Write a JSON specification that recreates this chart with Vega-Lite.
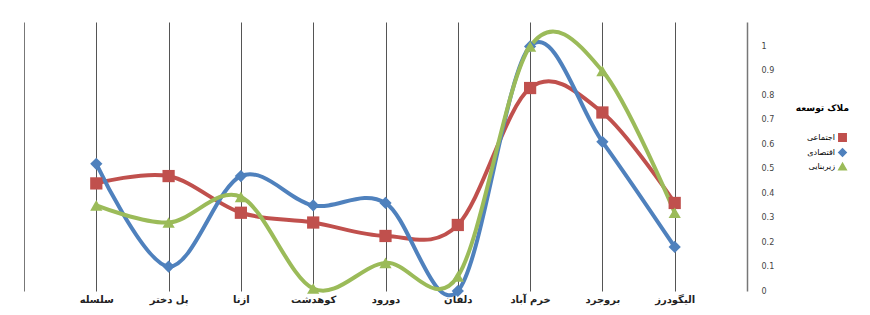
{
  "$schema": "https://vega.github.io/schema/vega-lite/v6.json",
  "width": 723,
  "height": 269,
  "autosize": "none",
  "padding": {"left": 24, "top": 22, "right": 123, "bottom": 24},
  "background": "white",
  "config": {"view": {"stroke": null}, "font": "DejaVu Sans"},
  "data": {"values": [
    {"city": "سلسله", "criterion": "اجتماعی", "value": 0.44},
    {"city": "سلسله", "criterion": "اقتصادی", "value": 0.52},
    {"city": "سلسله", "criterion": "زیربنایی", "value": 0.35},
    {"city": "پل دختر", "criterion": "اجتماعی", "value": 0.47},
    {"city": "پل دختر", "criterion": "اقتصادی", "value": 0.10},
    {"city": "پل دختر", "criterion": "زیربنایی", "value": 0.28},
    {"city": "ازنا", "criterion": "اجتماعی", "value": 0.32},
    {"city": "ازنا", "criterion": "اقتصادی", "value": 0.47},
    {"city": "ازنا", "criterion": "زیربنایی", "value": 0.385},
    {"city": "کوهدشت", "criterion": "اجتماعی", "value": 0.28},
    {"city": "کوهدشت", "criterion": "اقتصادی", "value": 0.35},
    {"city": "کوهدشت", "criterion": "زیربنایی", "value": 0.01},
    {"city": "دورود", "criterion": "اجتماعی", "value": 0.225},
    {"city": "دورود", "criterion": "اقتصادی", "value": 0.36},
    {"city": "دورود", "criterion": "زیربنایی", "value": 0.115},
    {"city": "دلفان", "criterion": "اجتماعی", "value": 0.27},
    {"city": "دلفان", "criterion": "اقتصادی", "value": 0.0},
    {"city": "دلفان", "criterion": "زیربنایی", "value": 0.06},
    {"city": "خرم آباد", "criterion": "اجتماعی", "value": 0.83},
    {"city": "خرم آباد", "criterion": "اقتصادی", "value": 1.0},
    {"city": "خرم آباد", "criterion": "زیربنایی", "value": 1.0},
    {"city": "بروجرد", "criterion": "اجتماعی", "value": 0.73},
    {"city": "بروجرد", "criterion": "اقتصادی", "value": 0.61},
    {"city": "بروجرد", "criterion": "زیربنایی", "value": 0.9},
    {"city": "الیگودرز", "criterion": "اجتماعی", "value": 0.36},
    {"city": "الیگودرز", "criterion": "اقتصادی", "value": 0.18},
    {"city": "الیگودرز", "criterion": "زیربنایی", "value": 0.32}
  ]},
  "encoding": {
    "x": {
      "field": "city", "type": "nominal",
      "sort": ["سلسله", "پل دختر", "ازنا", "کوهدشت", "دورود", "دلفان", "خرم آباد", "بروجرد", "الیگودرز"],
      "scale": {"type": "point", "padding": 1},
      "axis": {"title": null, "labelAngle": 0, "grid": true, "gridColor": "#555", "gridWidth": 1, "ticks": false, "domain": false, "labelFontSize": 10, "labelFontWeight": "bold", "labelColor": "#222", "labelPadding": 3}
    },
    "y": {
      "field": "value", "type": "quantitative",
      "scale": {"domain": [0, 1.1], "nice": false}
    },
    "color": {
      "field": "criterion", "type": "nominal",
      "scale": {"domain": ["اجتماعی", "اقتصادی", "زیربنایی"], "range": ["#c0504d", "#4f81bd", "#9bbb59"]},
      "legend": {"title": "ملاک توسعه", "orient": "none", "legendX": 772, "legendY": 82, "titleFontSize": 9, "titleFontWeight": "bold", "titlePadding": 20, "labelFontSize": 8, "labelAlign": "right", "labelOffset": -12, "symbolSize": 55, "titleAnchor": "end", "rowPadding": 0}
    }
  },
  "layer": [
    {
      "mark": {"type": "line", "interpolate": "cardinal", "strokeWidth": 4},
      "encoding": {
        "y": {"field": "value", "type": "quantitative", "axis": {"orient": "right", "title": null, "values": [0, 0.1, 0.2, 0.3, 0.4, 0.5, 0.6, 0.7, 0.8, 0.9, 1], "format": "~g", "grid": false, "ticks": false, "domainColor": "#777", "domainWidth": 1.5, "labelPadding": 14, "labelFontSize": 8, "labelColor": "#444"}}
      }
    },
    {
      "mark": {"type": "point", "filled": true, "opacity": 1, "size": 150},
      "encoding": {
        "y": {"field": "value", "type": "quantitative", "axis": {"orient": "left", "title": null, "labels": false, "ticks": false, "grid": false, "domainColor": "#777", "domainWidth": 1}},
        "shape": {"field": "criterion", "type": "nominal", "scale": {"domain": ["اجتماعی", "اقتصادی", "زیربنایی"], "range": ["square", "diamond", "triangle-up"]}, "legend": {"title": "ملاک توسعه", "orient": "none", "legendX": 772, "legendY": 82}}
      }
    }
  ],
  "resolve": {"axis": {"y": "independent"}}
}
